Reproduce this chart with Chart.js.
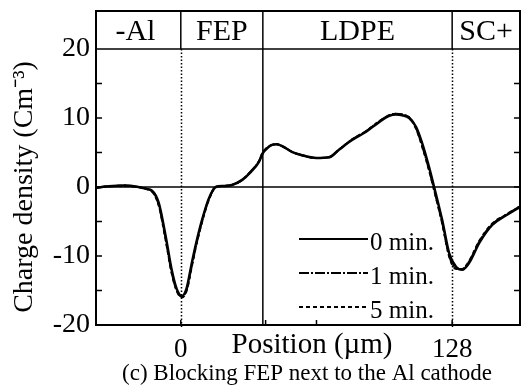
<!DOCTYPE html>
<html>
<head>
<meta charset="utf-8">
<script src="https://cdn.jsdelivr.net/npm/chart.js@4.4.1/dist/chart.umd.min.js"></script>
<style>
  html, body { margin: 0; padding: 0; background: #fff; }
  #wrap { width: 521px; height: 387px; position: relative; }
</style>
</head>
<body>
<div id="wrap"><canvas id="c" width="521" height="387"></canvas></div>
<script>
// ---- data ----
const positions = [-40, -34, -27, -20, -16, -13.7, -10.4, -7.1, -4.3, -1.9, 0.5, 2.8, 5.2, 7.5, 10, 13.2, 16.5, 20, 24.1, 28.8, 33.1, 36.8, 38.7, 41, 43, 45.3, 48, 52.4, 57.2, 63.8, 69.9, 74.6, 80.8, 87.4, 93.5, 98.3, 101.5, 104.4, 107.7, 111, 113.8, 117.1, 119.5, 123.3, 126.6, 129.9, 132.7, 136, 140.8, 146.9, 153.5, 160];
const min0 = [-0.1, 0.1, 0.2, 0.0, -0.3, -0.5, -2.3, -7.2, -12.0, -14.8, -15.8, -14.6, -11.0, -7.8, -4.8, -1.7, 0.0, 0.15, 0.3, 1.0, 2.2, 3.6, 4.9, 5.7, 6.1, 6.2, 5.9, 5.1, 4.6, 4.2, 4.3, 5.4, 6.8, 8.0, 9.4, 10.3, 10.5, 10.4, 10.0, 8.7, 6.4, 2.9, 0.0, -4.8, -9.6, -11.6, -12.0, -11.0, -8.1, -5.5, -4.1, -2.9];
const min1 = [-0.1, 0.1, 0.2, 0.0, -0.3, -0.6, -2.6, -7.6, -12.4, -15.0, -15.9, -14.9, -11.4, -8.1, -5.0, -1.8, 0.0, 0.15, 0.3, 1.0, 2.3, 3.7, 5.0, 5.7, 6.1, 6.2, 5.9, 5.1, 4.6, 4.2, 4.3, 5.4, 6.9, 8.1, 9.5, 10.4, 10.6, 10.5, 10.1, 8.5, 6.0, 2.5, -0.4, -5.2, -10.0, -11.8, -11.9, -10.8, -7.9, -5.4, -4.0, -2.8];
const min5 = [-0.1, 0.1, 0.2, 0.0, -0.3, -0.6, -2.7, -7.8, -12.5, -15.1, -16.0, -15.0, -11.5, -8.2, -5.1, -1.9, 0.0, 0.15, 0.3, 1.0, 2.3, 3.7, 5.0, 5.8, 6.1, 6.2, 5.9, 5.1, 4.6, 4.2, 4.3, 5.4, 6.9, 8.1, 9.5, 10.4, 10.6, 10.5, 10.1, 8.4, 5.9, 2.4, -0.5, -5.3, -10.1, -11.9, -11.9, -10.7, -7.8, -5.3, -4.0, -2.8];
const seriesLabels = ['0 min.', '1 min.', '5 min.'];
const xTickValues = [0, 128];
const yTickValues = [-20, -10, 0, 10, 20];
const layerNames = ['-Al', 'FEP', 'LDPE', 'SC+'];
const layerBounds = [-40, 0, 38.7, 128, 160];
const xTitle = 'Position (µm)';
const yTitle = 'Charge density (Cm⁻³)';
const caption = '(c) Blocking FEP next to the Al cathode';

const SERIF = "'Liberation Serif', 'Times New Roman', serif";
const toPts = arr => positions.map((x, i) => ({ x: x, y: arr[i] }));

const deco = {
  id: 'deco',
  beforeDatasetsDraw(chart) {
    const { ctx, chartArea: a, scales: { x, y } } = chart;
    ctx.save();
    ctx.strokeStyle = '#000';
    // zero line
    ctx.lineWidth = 1.5;
    ctx.beginPath();
    ctx.moveTo(a.left, y.getPixelForValue(0));
    ctx.lineTo(a.right, y.getPixelForValue(0));
    ctx.stroke();
    // dotted verticals at 0 and 128
    ctx.lineWidth = 1.5;
    ctx.setLineDash([1.5, 2]);
    [layerBounds[1], layerBounds[3]].forEach(v => {
      const px = Math.round(x.getPixelForValue(v)) + 0.5;
      ctx.beginPath();
      ctx.moveTo(px, a.top);
      ctx.lineTo(px, a.bottom + 4);
      ctx.stroke();
    });
    ctx.setLineDash([]);
    // solid boundary FEP / LDPE
    const pb = x.getPixelForValue(layerBounds[2]);
    ctx.lineWidth = 1.5;
    ctx.beginPath();
    ctx.moveTo(pb, a.top);
    ctx.lineTo(pb, a.bottom);
    ctx.stroke();
    ctx.restore();
  },
  afterDraw(chart) {
    const { ctx, chartArea: a, scales: { x, y } } = chart;
    ctx.save();
    ctx.strokeStyle = '#000';
    ctx.fillStyle = '#000';
    const headTop = 11;
    // frame
    ctx.lineWidth = 2;
    ctx.strokeRect(a.left, headTop, a.right - a.left, a.bottom - headTop);
    ctx.lineWidth = 1.5;
    ctx.beginPath();
    ctx.moveTo(a.left, a.top);
    ctx.lineTo(a.right, a.top);
    ctx.stroke();
    // header separators
    [layerBounds[1], layerBounds[2], layerBounds[3]].forEach(v => {
      const px = x.getPixelForValue(v);
      ctx.beginPath();
      ctx.moveTo(px, headTop);
      ctx.lineTo(px, a.top);
      ctx.stroke();
    });
    // header labels
    ctx.font = '30px ' + SERIF;
    ctx.textAlign = 'center';
    ctx.textBaseline = 'middle';
    layerNames.forEach((n, i) => {
      const cx = (x.getPixelForValue(layerBounds[i]) + x.getPixelForValue(layerBounds[i + 1])) / 2;
      ctx.fillText(n, cx + (i === 0 ? -3 : 0), (headTop + a.top) / 2 + 2);
    });
    // inward ticks
    ctx.lineWidth = 1.5;
    for (let v = -15; v <= 15; v += 5) {
      const py = y.getPixelForValue(v);
      ctx.beginPath();
      ctx.moveTo(a.left, py); ctx.lineTo(a.left + 6, py);
      ctx.moveTo(a.right, py); ctx.lineTo(a.right - 6, py);
      ctx.stroke();
    }
    [0, 40, 64, 128].forEach(v => {
      const px = x.getPixelForValue(v);
      ctx.beginPath();
      ctx.moveTo(px, a.bottom); ctx.lineTo(px, a.bottom - 5);
      ctx.stroke();
    });
    // x title
    ctx.font = '29px ' + SERIF;
    ctx.textAlign = 'center';
    ctx.textBaseline = 'middle';
    ctx.fillText(xTitle, 312, 345);
    // caption
    ctx.font = '23px ' + SERIF;
    ctx.fillText(caption, 307, 374);
    // legend
    const ly = [239, 273, 307];
    ctx.font = '25px ' + SERIF;
    ctx.textAlign = 'left';
    chart.data.datasets.forEach((ds, i) => {
      ctx.lineWidth = 2;
      ctx.setLineDash(ds.borderDash || []);
      ctx.beginPath();
      ctx.moveTo(299, ly[i]);
      ctx.lineTo(368, ly[i]);
      ctx.stroke();
      ctx.setLineDash([]);
      ctx.fillText(ds.label, 370, ly[i] + 4);
    });
    ctx.restore();
  }
};

new Chart(document.getElementById('c'), {
  type: 'line',
  data: {
    datasets: [
      { label: seriesLabels[0], data: toPts(min0), borderColor: '#000', borderWidth: 2.5, borderDash: [] },
      { label: seriesLabels[1], data: toPts(min1), borderColor: '#000', borderWidth: 2, borderDash: [10, 2, 2, 2] },
      { label: seriesLabels[2], data: toPts(min5), borderColor: '#000', borderWidth: 2, borderDash: [4, 3] }
    ]
  },
  options: {
    responsive: false,
    animation: false,
    devicePixelRatio: 1,
    layout: { padding: { top: 49, right: 1, left: 0, bottom: 0 } },
    elements: { point: { radius: 0 }, line: { cubicInterpolationMode: 'monotone', fill: false } },
    plugins: { legend: { display: false }, tooltip: { enabled: false } },
    scales: {
      x: {
        type: 'linear', min: -40, max: 160,
        afterFit: s => { s.height = 62; },
        afterBuildTicks: s => { s.ticks = xTickValues.map(v => ({ value: v })); },
        grid: { display: false, drawTicks: false },
        border: { display: false },
        ticks: { color: '#000', font: { family: SERIF, size: 27 }, padding: 9, maxRotation: 0, autoSkip: false }
      },
      y: {
        min: -20, max: 20,
        afterFit: s => { s.width = 96; },
        afterBuildTicks: s => { s.ticks = yTickValues.map(v => ({ value: v })); },
        grid: { display: false, drawTicks: false },
        border: { display: false },
        ticks: { color: '#000', font: { family: SERIF, size: 28 }, padding: 6 },
        title: { display: true, text: yTitle, color: '#000', font: { family: SERIF, size: 28 }, padding: { top: 8, bottom: 0 } }
      }
    }
  },
  plugins: [deco]
});
</script>
</body>
</html>
